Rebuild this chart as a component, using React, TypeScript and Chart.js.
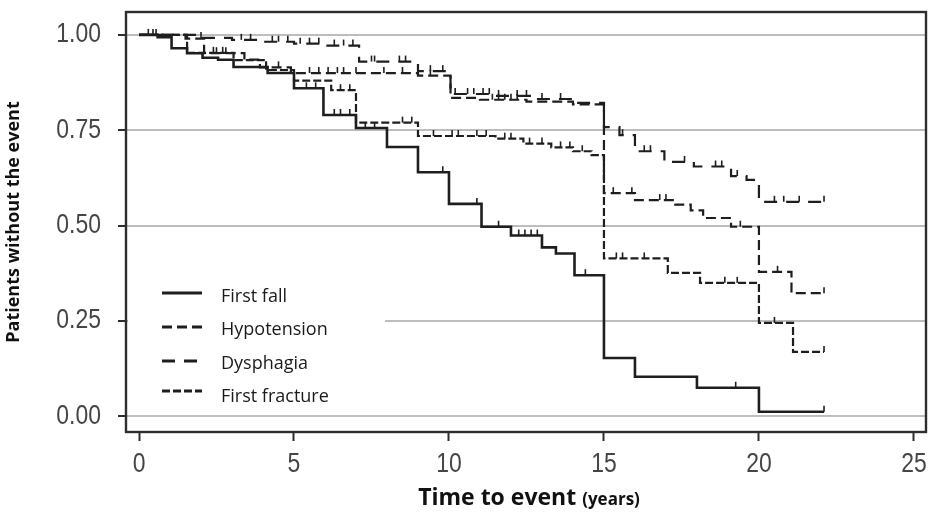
import React, { useEffect, useRef } from 'react';
import { Chart, registerables } from 'chart.js';

Chart.register(...registerables);

// Axis ticks
const xTicks = [0, 5, 10, 15, 20, 25];
const yTicks = [0, 0.25, 0.5, 0.75, 1];

// Kaplan-Meier steps: time (years) at which survival changes, and the new value
const fallTimes = [0, 0.6, 1.05, 1.55, 2.05, 2.55, 3.05, 4.15, 5.0, 5.95, 7.0, 8.0, 9.0, 10.0, 11.05, 12.0, 13.0, 13.45, 14.05, 15.0, 16.0, 18.0, 20.0, 22.1];
const fallSurv = [1.0, 0.994, 0.965, 0.952, 0.94, 0.935, 0.916, 0.9, 0.86, 0.79, 0.756, 0.706, 0.64, 0.557, 0.497, 0.474, 0.443, 0.427, 0.37, 0.153, 0.104, 0.075, 0.012, 0.012];
const fallCensor = [0.3, 0.45, 0.55, 5.4, 5.7, 6.3, 6.5, 6.8, 7.3, 7.6, 8.0, 9.8, 10.9, 11.6, 12.0, 12.25, 12.45, 12.65, 12.85, 13.45, 14.4, 19.25, 22.1];

const hypoTimes = [0, 1.5, 2.1, 3.4, 3.9, 4.9, 9.0, 10.05, 11.0, 12.5, 14.0, 15.0, 16.0, 17.3, 17.8, 18.2, 19.1, 20.0, 21.05, 22.1];
const hypoSurv = [1.0, 0.99, 0.952, 0.935, 0.915, 0.9, 0.893, 0.835, 0.83, 0.825, 0.818, 0.585, 0.567, 0.555, 0.54, 0.52, 0.497, 0.379, 0.323, 0.323];
const hypoCensor = [2.5, 2.8, 4.1, 4.5, 5.5, 5.8, 6.1, 6.4, 6.6, 7.0, 7.9, 8.5, 9.4, 11.4, 11.6, 11.8, 12.0, 12.2, 15.3, 15.9, 16.8, 17.0, 19.4, 20.6, 22.1];

const dysTimes = [0, 2.0, 3.0, 4.0, 5.0, 6.0, 7.1, 9.0, 10.05, 11.5, 12.8, 14.0, 15.0, 15.5, 16.0, 16.95, 17.9, 19.1, 19.6, 20.0, 22.1];
const dysSurv = [1.0, 0.992, 0.987, 0.982, 0.977, 0.972, 0.93, 0.905, 0.845, 0.84, 0.832, 0.822, 0.758, 0.737, 0.695, 0.667, 0.655, 0.63, 0.62, 0.5625, 0.5625];
const dysCensor = [2.0, 3.3, 3.6, 4.3, 4.5, 4.8, 5.2, 5.5, 5.8, 6.3, 6.6, 6.9, 7.5, 7.6, 8.4, 8.6, 9.4, 9.8, 10.2, 10.6, 10.8, 11.1, 11.3, 11.6, 12.2, 12.5, 13.0, 13.6, 15.6, 16.3, 16.5, 17.6, 18.6, 18.8, 19.3, 20.5, 20.8, 21.3, 22.1];

const fracTimes = [0, 1.55, 3.05, 4.1, 5.0, 6.2, 7.0, 9.0, 11.5, 12.4, 13.3, 14.0, 14.6, 15.0, 17.06, 18.1, 20.0, 21.1, 22.1];
const fracSurv = [1.0, 0.953, 0.934, 0.908, 0.88, 0.855, 0.77, 0.735, 0.728, 0.715, 0.705, 0.695, 0.685, 0.414, 0.376, 0.35, 0.245, 0.169, 0.169];
const fracCensor = [2.4, 2.7, 6.5, 6.8, 8.5, 8.8, 9.5, 10.1, 10.3, 10.9, 11.2, 11.8, 12.0, 12.6, 13.0, 13.6, 13.9, 14.3, 15.4, 15.6, 16.3, 18.9, 19.3, 20.5, 22.1];

const seriesLabels = ['First fall', 'Hypotension', 'Dysphagia', 'First fracture'];
const seriesDash: number[][] = [[], [10, 5], [13, 9], [8, 3]];

const LINE = '#1e1e1e';
const TICK_FONT = "'Liberation Sans', Arial, sans-serif";
const TEXT_FONT = "'Open Sans', 'DejaVu Sans', sans-serif";

const toPoints = (t: number[], s: number[]) => t.map((x, i) => ({ x, y: s[i] }));

const stepAt = (t: number[], s: number[], at: number) => {
  let v = s[0];
  for (let i = 0; i < t.length; i++) {
    if (t[i] <= at) v = s[i];
  }
  return v;
};

const curves = [
  { times: fallTimes, surv: fallSurv, censor: fallCensor },
  { times: hypoTimes, surv: hypoSurv, censor: hypoCensor },
  { times: dysTimes, surv: dysSurv, censor: dysCensor },
  { times: fracTimes, surv: fracSurv, censor: fracCensor },
];

// condensed tick label, drawn with a horizontal squeeze
const narrowText = (ctx: any, text: string, x: number, y: number, align: string) => {
  ctx.save();
  ctx.translate(x, y);
  ctx.scale(0.85, 1);
  ctx.textAlign = align;
  ctx.textBaseline = 'middle';
  ctx.fillText(text, 0, 0);
  ctx.restore();
};

const kmDecor = {
  id: 'kmDecor',
  afterDatasetsDraw(chart: any) {
    const { ctx, chartArea, scales } = chart;
    const xs = scales.x;
    const ys = scales.y;

    // censoring marks
    ctx.save();
    ctx.strokeStyle = LINE;
    ctx.lineWidth = 1.6;
    ctx.setLineDash([]);
    curves.forEach((c) => {
      c.censor.forEach((t) => {
        const px = xs.getPixelForValue(t);
        const py = ys.getPixelForValue(stepAt(c.times, c.surv, t));
        ctx.beginPath();
        ctx.moveTo(px, py);
        ctx.lineTo(px, py - 6);
        ctx.stroke();
      });
    });
    ctx.restore();

    // legend panel
    ctx.save();
    ctx.fillStyle = '#ffffff';
    ctx.fillRect(chartArea.left + 2, 268, 385 - chartArea.left - 2, 140);
    const lineY = [293, 327, 361, 391];
    const textY = [302, 335, 369, 402];
    ctx.font = `18px ${TEXT_FONT}`;
    ctx.textBaseline = 'alphabetic';
    ctx.textAlign = 'left';
    seriesLabels.forEach((label, i) => {
      ctx.strokeStyle = LINE;
      ctx.lineWidth = i === 0 ? 3.2 : 3;
      ctx.setLineDash(seriesDash[i]);
      ctx.beginPath();
      ctx.moveTo(162, lineY[i]);
      ctx.lineTo(202, lineY[i]);
      ctx.stroke();
      ctx.fillStyle = '#1a1a1a';
      ctx.fillText(label, 221, textY[i]);
    });
    ctx.restore();
  },
  afterDraw(chart: any) {
    const { ctx, chartArea, scales } = chart;
    ctx.save();
    // frame around the plot
    ctx.strokeStyle = '#2e2e2e';
    ctx.lineWidth = 2.4;
    ctx.setLineDash([]);
    ctx.strokeRect(chartArea.left, chartArea.top, chartArea.right - chartArea.left, chartArea.bottom - chartArea.top);

    // tick labels
    ctx.fillStyle = '#454545';
    ctx.font = `27px ${TICK_FONT}`;
    yTicks.forEach((v) => {
      narrowText(ctx, v.toFixed(2), 101, scales.y.getPixelForValue(v), 'right');
    });
    xTicks.forEach((v) => {
      narrowText(ctx, String(v), scales.x.getPixelForValue(v), 465, 'center');
    });

    // x-axis title with smaller unit
    const main = 'Time to event ';
    const unit = '(years)';
    ctx.fillStyle = '#111';
    ctx.textBaseline = 'alphabetic';
    ctx.textAlign = 'left';
    ctx.font = `bold 23px ${TEXT_FONT}`;
    const w1 = ctx.measureText(main).width;
    ctx.font = `bold 17px ${TEXT_FONT}`;
    const w2 = ctx.measureText(unit).width;
    const x0 = 529 - (w1 + w2) / 2;
    ctx.font = `bold 23px ${TEXT_FONT}`;
    ctx.fillText(main, x0, 505);
    ctx.font = `bold 17px ${TEXT_FONT}`;
    ctx.fillText(unit, x0 + w1, 505);
    ctx.restore();
  },
};

export default function App() {
  const canvasRef = useRef<HTMLCanvasElement | null>(null);

  useEffect(() => {
    const canvas = canvasRef.current;
    if (!canvas) return;
    const chart = new Chart(canvas, {
      type: 'line',
      data: {
        datasets: curves.map((c, i) => ({
          label: seriesLabels[i],
          data: toPoints(c.times, c.surv),
          stepped: 'before' as const,
          borderColor: LINE,
          borderWidth: i === 0 ? 2.6 : 2.2,
          borderDash: seriesDash[i],
          pointRadius: 0,
          fill: false,
          tension: 0,
        })),
      },
      options: {
        responsive: false,
        animation: false,
        devicePixelRatio: 1,
        layout: { padding: { top: 12, right: 5, left: 0, bottom: 0 } },
        plugins: {
          legend: { display: false },
          tooltip: { enabled: false },
        },
        scales: {
          x: {
            type: 'linear',
            min: -0.42,
            max: 25.39,
            afterBuildTicks: (s: any) => {
              s.ticks = xTicks.map((v) => ({ value: v }));
            },
            afterFit: (s: any) => {
              s.height = 83;
            },
            grid: {
              drawOnChartArea: false,
              drawTicks: true,
              tickLength: 9,
              tickColor: '#2e2e2e',
              tickWidth: 2,
            },
            border: { display: false },
            ticks: { display: false },
          },
          y: {
            type: 'linear',
            min: -0.041,
            max: 1.06,
            afterBuildTicks: (s: any) => {
              s.ticks = yTicks.map((v) => ({ value: v }));
            },
            afterFit: (s: any) => {
              s.width = 126;
            },
            grid: {
              color: '#bdbdbd',
              lineWidth: 2,
              tickColor: '#2e2e2e',
              tickWidth: 2,
              tickLength: 8,
            },
            border: { display: false },
            ticks: { display: false },
            title: {
              display: true,
              text: 'Patients without the event',
              color: '#111',
              font: { family: TEXT_FONT, size: 18, weight: 'bold' },
              padding: { top: 3, bottom: 0 },
            },
          },
        },
      },
      plugins: [kmDecor],
    });
    return () => chart.destroy();
  }, []);

  return (
    <div style={{ position: 'fixed', left: 0, top: 0, width: 931, height: 515, background: '#fff' }}>
      <canvas ref={canvasRef} width={931} height={515} />
    </div>
  );
}
